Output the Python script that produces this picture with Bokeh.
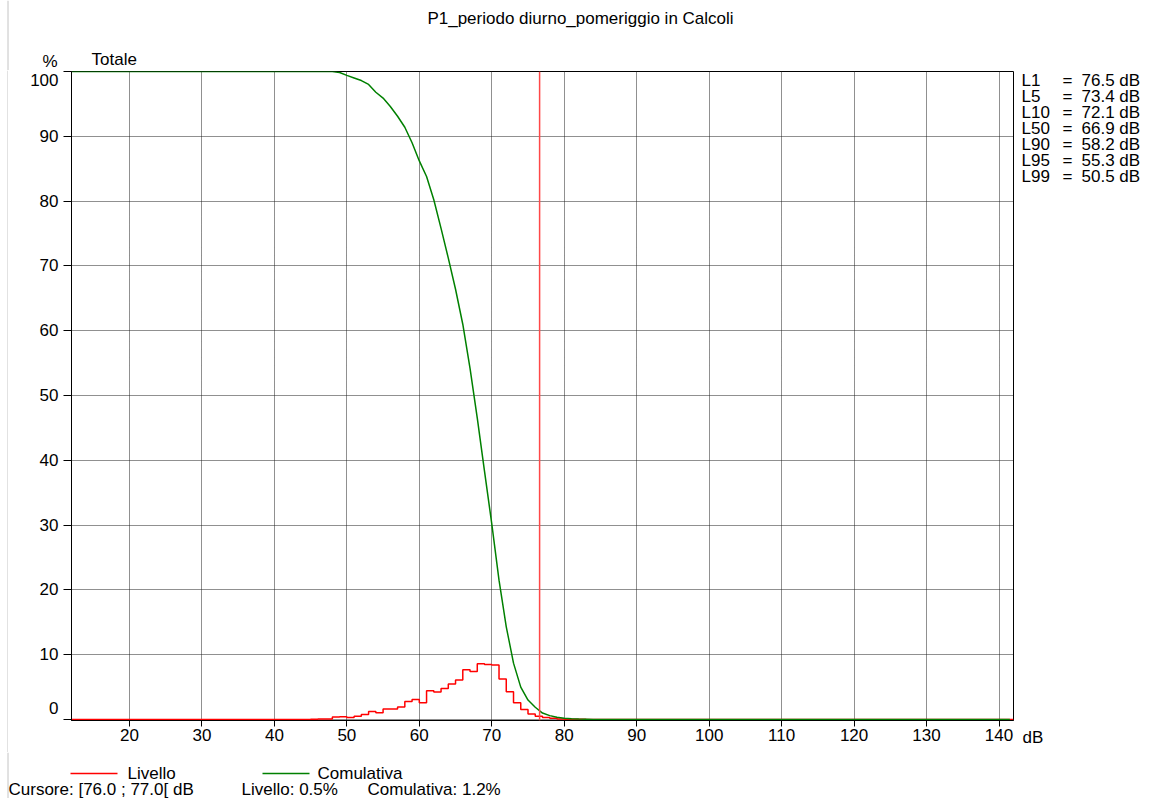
from bokeh.plotting import figure
from bokeh.models import Range1d, Label, Span, FixedTicker
from bokeh.layouts import column, row
from bokeh.embed import file_html
from bokeh.resources import INLINE

# ---------------- data ----------------
title_text = "P1_periodo diurno_pomeriggio in Calcoli"

# histogram "Livello" (% per 1 dB bin, step drawn from each bin's left edge)
hist_db = [12, 45, 46, 47, 48, 49, 50, 51, 52, 53, 54, 55, 56, 57, 58, 59,
           60, 61, 62, 63, 64, 65, 66, 67, 68, 69, 70, 71, 72, 73, 74, 75,
           76, 77, 78, 79, 80, 81, 82, 83, 84, 142]
hist_pct = [0.0, 0.05, 0.08, 0.1, 0.4, 0.42, 0.3, 0.51, 0.77, 1.23, 1.03, 1.64, 1.64, 1.95, 2.77, 3.1,
            2.6, 4.44, 4.23, 4.8, 5.5, 6.1, 7.7, 7.4, 8.6, 8.5, 8.4, 6.25, 4.3, 2.6, 1.53, 0.87,
            0.51, 0.31, 0.2, 0.1, 0.06, 0.04, 0.03, 0.02, 0.0, 0.0]

# cumulative "Comulativa" (%)
cum_db = [12, 48, 49, 50, 51, 52, 53, 54, 55, 56, 57, 58, 59, 60, 61, 62, 63,
          64, 65, 66, 67, 68, 69, 70, 71, 72, 73, 74, 75, 76, 77, 78, 79, 80,
          81, 82, 83, 84, 85, 141.5]
cum_pct = [100.0, 100.0, 99.85, 99.4, 99.0, 98.6, 98.0, 96.8, 95.9, 94.6, 93.1, 91.4, 89.0, 86.2, 83.8, 80.2, 75.8,
           71.2, 66.4, 61.0, 54.2, 46.5, 38.3, 30.2, 21.5, 14.3, 8.7, 5.0, 3.0, 1.9, 1.0, 0.6, 0.35, 0.2,
           0.12, 0.08, 0.05, 0.02, 0.0, 0.0]

cursor_db = 76.6

x_ticks = [20, 30, 40, 50, 60, 70, 80, 90, 100, 110, 120, 130, 140]
y_ticks = [0, 10, 20, 30, 40, 50, 60, 70, 80, 90, 100]

stats_names = ["L1", "L5", "L10", "L50", "L90", "L95", "L99"]
stats_values = ["76.5", "73.4", "72.1", "66.9", "58.2", "55.3", "50.5"]

legend_labels = ["Livello", "Comulativa"]
cursor_texts = ["Cursore: [76.0 ; 77.0[ dB", "Livello: 0.5%", "Comulativa: 1.2%"]

# ---------------- layout constants (page pixels) ----------------
FONT = "Liberation Sans"
FS = "17px"
W, H = 1152, 798
TOP_H = 70             # title strip
L_W = 8                # left frame strip
M_W, M_H = 1008, 682   # main plot (frame 71..1013 x 71..720 on the page)
R_W = W - L_W - M_W    # statistics strip
B_H = H - TOP_H - M_H  # legend / cursor strip
EDGE = "#c4c4c4"


def strip(width, height, x0, x1, y_bottom, y_top):
    f = figure(width=width, height=height, x_range=Range1d(x0, x1), y_range=Range1d(y_bottom, y_top),
               output_backend="svg", toolbar_location=None, x_axis_type=None, y_axis_type=None,
               min_border_left=0, min_border_right=0, min_border_top=0, min_border_bottom=0,
               background_fill_color="white", border_fill_color="white", outline_line_color=None)
    f.frame_align = False
    f.grid.visible = False
    return f


def lab(f, text, px, py, align="left"):
    f.add_layout(Label(x=px, y=py, text=text, text_align=align, text_baseline="middle",
                       text_font=FONT, text_font_size=FS, text_color="black"))


# ---- top strip: title, unit, "Totale"
top = strip(W, TOP_H, 0, W, TOP_H, 0)
top.segment(x0=[7.5], y0=[0], x1=[7.5], y1=[TOP_H], line_color=EDGE, line_width=1)
lab(top, title_text, 580, 18, "center")
lab(top, "%", 57, 61, "right")
lab(top, "Totale", 91, 59)

# ---- left strip: outer frame line
left = strip(L_W, M_H, 0, L_W, TOP_H + M_H, TOP_H)
left.segment(x0=[7.5], y0=[TOP_H], x1=[7.5], y1=[TOP_H + M_H], line_color=EDGE, line_width=1)

# ---- main plot
p = figure(width=M_W, height=M_H, x_range=Range1d(12, 142), y_range=Range1d(-0.15, 100),
           output_backend="svg", toolbar_location=None,
           min_border_left=71 - L_W, min_border_right=3, min_border_top=1, min_border_bottom=32,
           background_fill_color="white", border_fill_color="white",
           outline_line_color="black", outline_line_width=1)
p.frame_align = False

p.xaxis.ticker = FixedTicker(ticks=x_ticks)
p.yaxis.ticker = FixedTicker(ticks=y_ticks)
for ax in (p.xaxis, p.yaxis):
    ax.axis_line_color = "black"
    ax.major_tick_line_color = "black"
    ax.minor_tick_line_color = None
    ax.major_tick_in = 0
    ax.major_label_text_font = FONT
    ax.major_label_text_font_size = FS
    ax.major_label_text_color = "black"
p.xaxis.major_tick_out = 6
p.xaxis.major_label_standoff = 2
p.yaxis.major_tick_out = 8
p.yaxis.major_label_standoff = 5
p.yaxis.major_label_overrides = {0: "0\n\u00a0"}

p.grid.grid_line_color = "#202020"
p.grid.grid_line_dash = "1 1"
p.grid.grid_line_width = 1

red = p.step(hist_db, hist_pct, mode="after", line_color="#ff0000", line_width=1.5)
green = p.line(cum_db, cum_pct, line_color="#008000", line_width=1.5)
p.add_layout(Span(location=cursor_db, dimension="height", line_color="#ff4848", line_width=1.5))

# ---- right strip: statistics and x unit
right = strip(R_W, M_H, L_W + M_W, W, TOP_H + M_H, TOP_H)
for i, (n, v) in enumerate(zip(stats_names, stats_values)):
    yy = 80 + 16 * i
    lab(right, n, 1021, yy)
    lab(right, "=", 1062, yy)
    lab(right, v + " dB", 1081, yy)
lab(right, "dB", 1022, 737)

# ---- bottom strip: legend and cursor readout
bottom = strip(W, B_H, 0, W, H, TOP_H + M_H)
bottom.segment(x0=[7.5], y0=[TOP_H + M_H], x1=[7.5], y1=[H], line_color=EDGE, line_width=1)
bottom.segment(x0=[70], y0=[773], x1=[117], y1=[773], line_color="#ff0000", line_width=1.5)
bottom.segment(x0=[262], y0=[773], x1=[309], y1=[773], line_color="#008000", line_width=1.5)
lab(bottom, legend_labels[0], 127, 773)
lab(bottom, legend_labels[1], 317, 773)
lab(bottom, cursor_texts[0], 8, 789)
lab(bottom, cursor_texts[1], 241, 789)
lab(bottom, cursor_texts[2], 367, 789)

layout = column(top, row(left, p, right), bottom)
open("out.html", "w").write(file_html(layout, INLINE, "chart"))
